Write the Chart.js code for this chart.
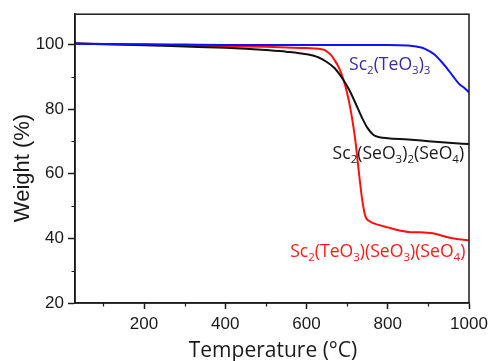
<!DOCTYPE html>
<html>
<head>
<meta charset="utf-8">
<script src="https://cdn.jsdelivr.net/npm/chart.js@4/dist/chart.umd.min.js"></script>
<style>
html,body{margin:0;padding:0;background:#fff;}
#c{display:block;}
</style>
</head>
<body>
<canvas id="c" width="496" height="361"></canvas>
<script>
// ---- data ----
const tempBlue   = [30,100,200,300,400,500,600,700,800,850,870,885,900,915,930,945,960,975,990,1000];
const weightBlue = [100.3,100.2,100.1,100.0,99.9,99.9,99.9,99.9,99.9,99.7,99.4,99.0,98.1,96.9,95.0,92.8,90.3,87.9,86.4,85.2];

const tempBlack   = [30,100,200,300,400,450,500,550,600,630,650,670,690,705,720,735,750,765,780,800,850,900,950,1000];
const weightBlack = [100.3,100.1,99.8,99.4,99.0,98.7,98.3,97.8,97.0,96.0,94.6,92.6,89.2,86.0,82.0,77.8,74.2,72.0,71.3,71.0,70.6,70.1,69.6,69.2];

const tempRed   = [30,100,200,300,400,500,550,600,630,645,660,670,680,690,700,710,720,728,737,745,755,780,800,823,850,880,910,930,950,975,1000];
const weightRed = [100.3,100.2,100.0,99.8,99.5,99.3,99.1,98.9,98.7,98.3,96.8,95.0,92.8,89.5,85.0,78.8,70.5,61.5,52.0,46.8,45.3,44.1,43.4,42.6,42.0,41.9,41.6,41.0,40.3,39.7,39.4];

const xMajorTicks = [200,400,600,800,1000];
const xMinorTicks = [100,300,500,700,900];
const yMajorTicks = [20,40,60,80,100];
const yMinorTicks = [30,50,70,90];

// curve labels ("_d" = subscript), anchored by right end / vertical centre in data coords
const labelTexts  = ["Sc_2(TeO_3)_3", "Sc_2(SeO_3)_2(SeO_4)", "Sc_2(TeO_3)(SeO_3)(SeO_4)"];
const labelRightX = [905, 988, 991];
const labelCenterY = [94.2, 66.6, 36.1];
const labelColors = ["#3b2a9e", "#1a1a1a", "#ff1a1a"];

const xTitle = "Temperature (\u00B0C)";
const yTitle = "Weight (%)";

function pts(xs, ys){ return xs.map((x,i)=>({x:x, y:ys[i]})); }

const tickFont = {family: '"Liberation Sans", Arial, sans-serif', size: 17};

const decor = {
  id: 'decor',
  afterDraw(chart){
    const ctx = chart.ctx, ca = chart.chartArea;
    const xs = chart.scales.x, ys = chart.scales.y;
    ctx.save();
    // frame
    ctx.strokeStyle = '#1a1a1a';
    ctx.lineWidth = 1.5;
    ctx.strokeRect(ca.left, ca.top, ca.right - ca.left, ca.bottom - ca.top);
    // minor ticks
    ctx.lineWidth = 1.2;
    ctx.beginPath();
    xMinorTicks.forEach(v=>{
      const px = Math.round(xs.getPixelForValue(v)) + 0.5;
      ctx.moveTo(px, ca.bottom); ctx.lineTo(px, ca.bottom + 3.5);
    });
    yMinorTicks.forEach(v=>{
      const py = Math.round(ys.getPixelForValue(v)) + 0.5;
      ctx.moveTo(ca.left, py); ctx.lineTo(ca.left - 3.5, py);
    });
    ctx.stroke();

    // axis titles
    ctx.fillStyle = '#1a1a1a';
    ctx.font = '21px "Open Sans", sans-serif';
    ctx.textAlign = 'center';
    ctx.textBaseline = 'alphabetic';
    ctx.fillText(xTitle, (ca.left + ca.right)/2 + 1, 357);
    ctx.save();
    ctx.translate(28.5, 168);
    ctx.rotate(-Math.PI/2);
    ctx.font = '22px "Liberation Sans", Arial, sans-serif';
    ctx.fillText(yTitle, 0, 0);
    ctx.restore();

    // curve labels
    const size = 17.6, subSize = 11.5;
    const mainFont = size + 'px "Open Sans", sans-serif';
    const subFont = subSize + 'px "Open Sans", sans-serif';
    labelTexts.forEach((t, i)=>{
      const parts = [];
      const re = /_(\d)|([^_]+)/g; let m;
      while ((m = re.exec(t)) !== null) {
        if (m[1]) parts.push({s:m[1], sub:true}); else parts.push({s:m[2], sub:false});
      }
      let total = 0;
      parts.forEach(p=>{ ctx.font = p.sub ? subFont : mainFont; p.w = ctx.measureText(p.s).width; total += p.w; });
      const right = xs.getPixelForValue(labelRightX[i]);
      const cy = ys.getPixelForValue(labelCenterY[i]);
      let x = right - total;
      const base = cy + size*0.36;
      ctx.fillStyle = labelColors[i];
      ctx.textAlign = 'left';
      parts.forEach(p=>{
        ctx.font = p.sub ? subFont : mainFont;
        ctx.fillText(p.s, x, p.sub ? base + 4 : base);
        x += p.w;
      });
    });
    ctx.restore();
  }
};

new Chart(document.getElementById('c'), {
  type: 'line',
  data: {
    datasets: [
      {label: 'Sc2(TeO3)3', data: pts(tempBlue, weightBlue), borderColor: '#1010ff', borderWidth: 2, pointRadius: 0, cubicInterpolationMode: 'monotone', fill: false},
      {label: 'Sc2(SeO3)2(SeO4)', data: pts(tempBlack, weightBlack), borderColor: '#111111', borderWidth: 2, pointRadius: 0, cubicInterpolationMode: 'monotone', fill: false},
      {label: 'Sc2(TeO3)(SeO3)(SeO4)', data: pts(tempRed, weightRed), borderColor: '#ff1010', borderWidth: 2, pointRadius: 0, cubicInterpolationMode: 'monotone', fill: false}
    ]
  },
  options: {
    responsive: false,
    animation: false,
    devicePixelRatio: 1,
    layout: {padding: {left: 0, top: 13, right: 27, bottom: 0}},
    plugins: {legend: {display: false}, tooltip: {enabled: false}},
    scales: {
      x: {
        type: 'linear', min: 30, max: 1000,
        afterBuildTicks: s => { s.ticks = xMajorTicks.map(v=>({value:v})); },
        afterFit: s => { s.height = 58; },
        grid: {display: true, drawOnChartArea: false, drawTicks: true, tickLength: 6, tickColor: '#1a1a1a', tickWidth: 1.5},
        border: {display: true, color: '#1a1a1a', width: 1.5},
        ticks: {font: tickFont, color: '#1a1a1a', padding: 5, maxRotation: 0, autoSkip: false, callback: v => String(v)}
      },
      y: {
        type: 'linear', min: 20, max: 109.4,
        afterBuildTicks: s => { s.ticks = yMajorTicks.map(v=>({value:v})); },
        afterFit: s => { s.width = 75; },
        grid: {display: true, drawOnChartArea: false, drawTicks: true, tickLength: 7, tickColor: '#1a1a1a', tickWidth: 1.5},
        border: {display: true, color: '#1a1a1a', width: 1.5},
        ticks: {font: tickFont, color: '#1a1a1a', padding: 4, autoSkip: false, callback: v => String(v)}
      }
    }
  },
  plugins: [decor]
});
</script>
</body>
</html>
